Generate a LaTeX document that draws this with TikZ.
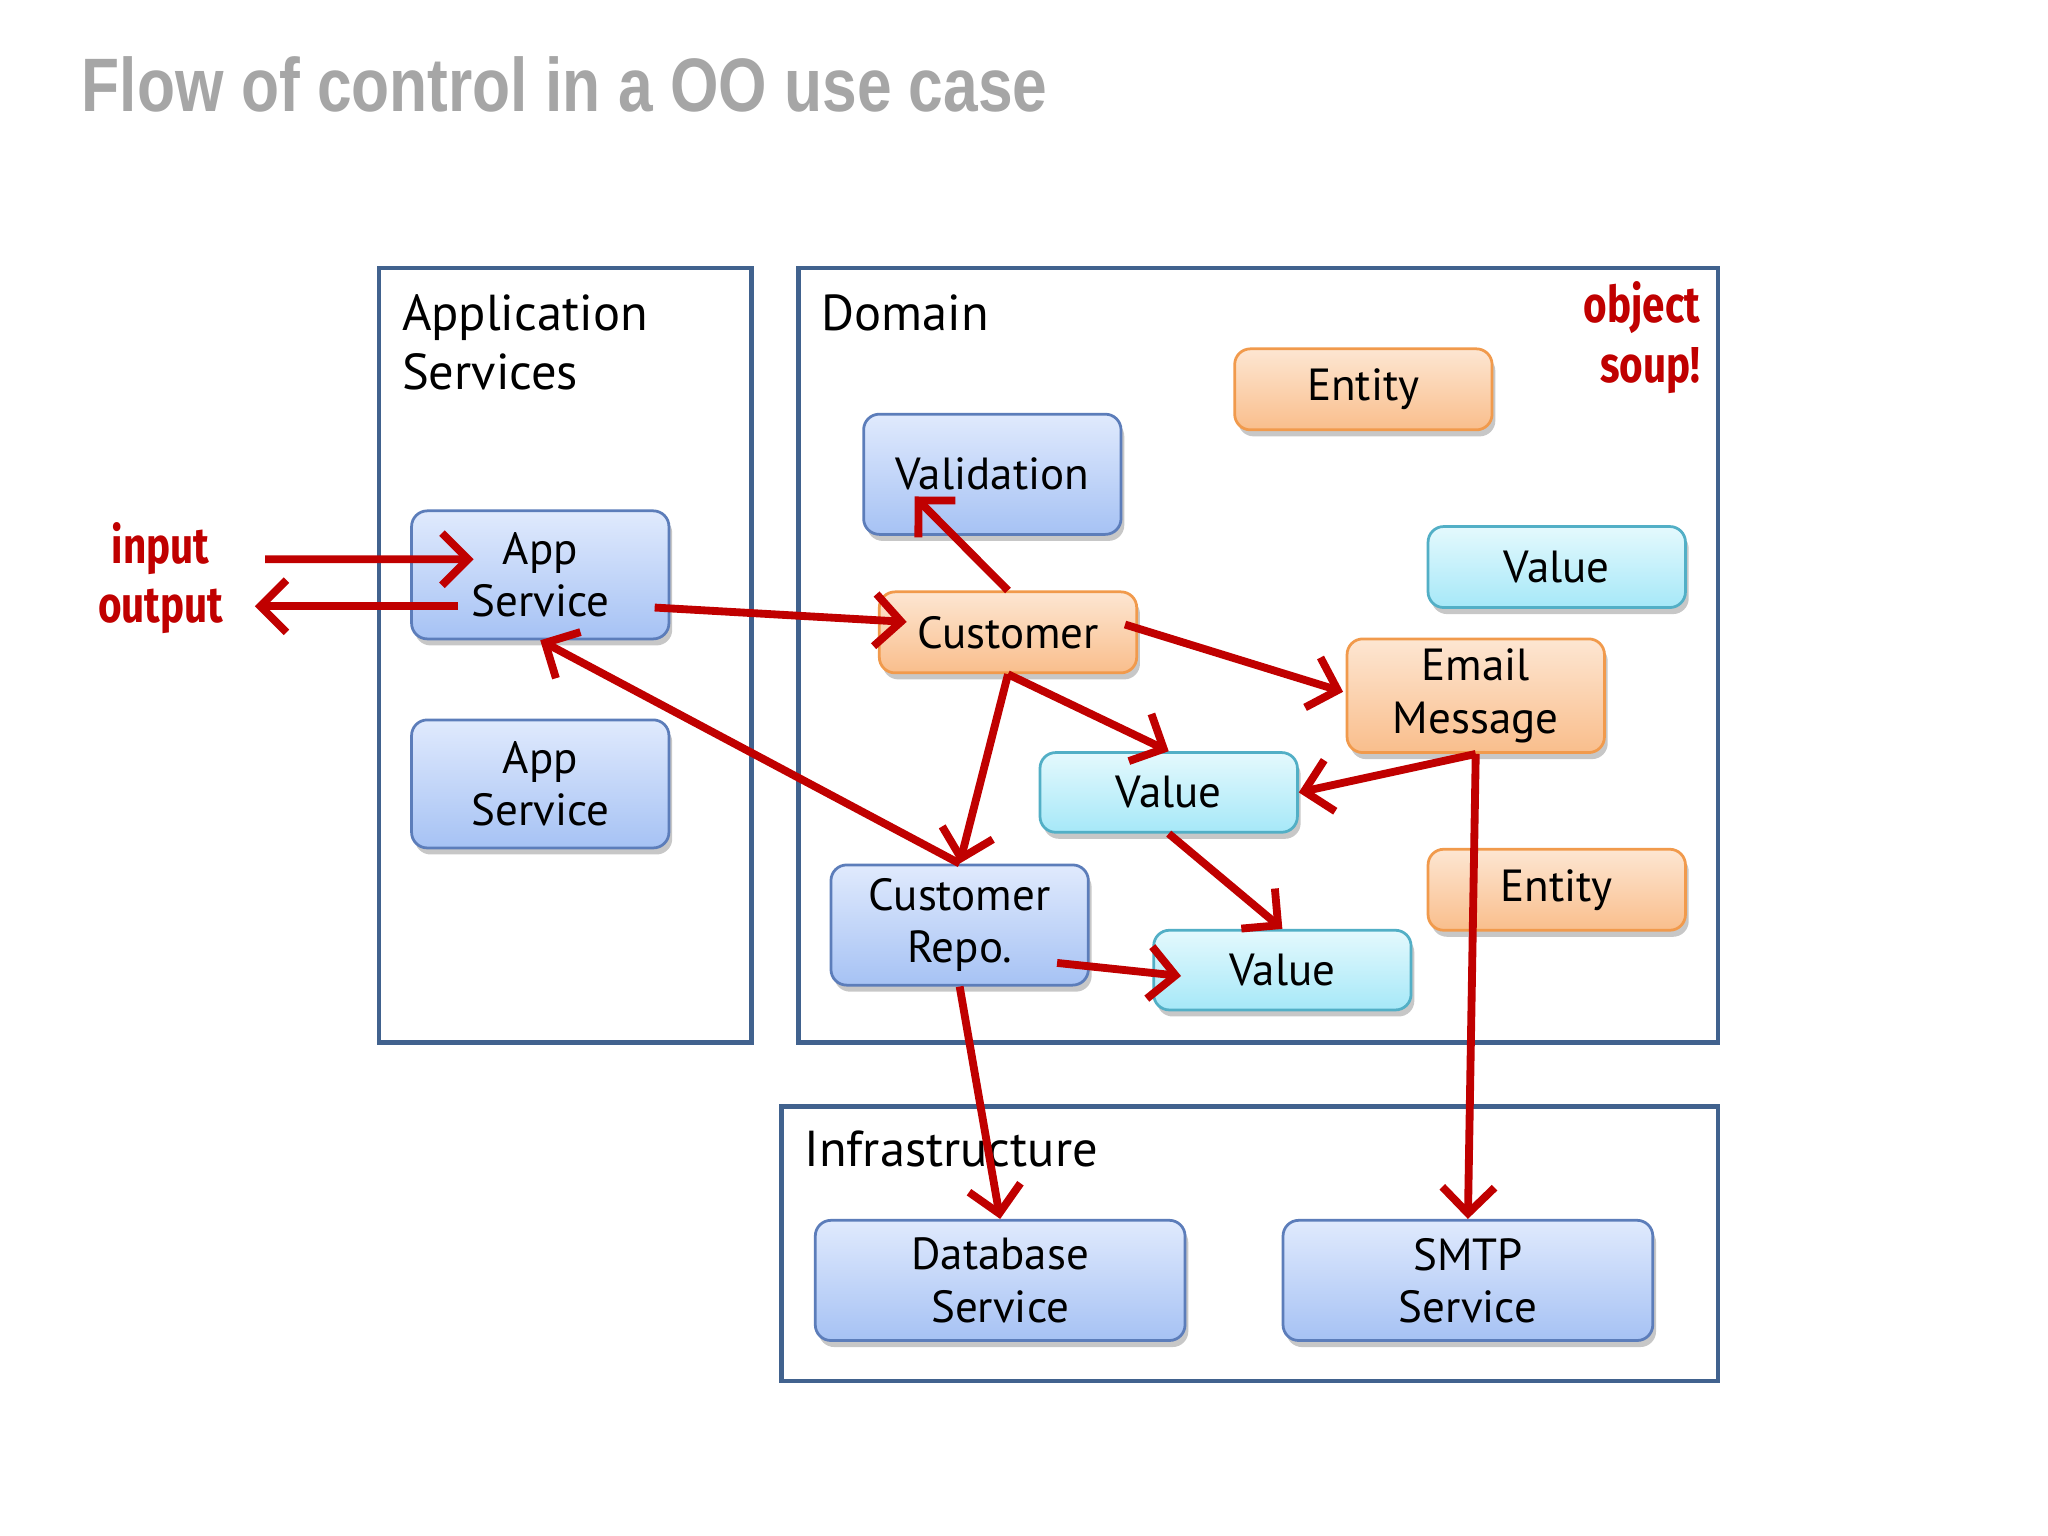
\documentclass[tikz,border=0pt]{standalone}
\usepackage{fontspec}
\setmainfont{PT Sans}
\newfontfamily\titlefont{Liberation Sans}
\newfontfamily\handfont{Fira Sans}
\usetikzlibrary{arrows.meta,shadows,calc}
\definecolor{frameblue}{HTML}{41628E}
\definecolor{bluetop}{HTML}{E0EAFD}
\definecolor{bluebot}{HTML}{A6C2F4}
\definecolor{blueedge}{HTML}{5C7DBA}
\definecolor{orangetop}{HTML}{FDE6D2}
\definecolor{orangebot}{HTML}{F9BE8C}
\definecolor{orangeedge}{HTML}{F19A4C}
\definecolor{cyantop}{HTML}{E4F9FD}
\definecolor{cyanbot}{HTML}{A6E8F8}
\definecolor{cyanedge}{HTML}{52AFC6}
\definecolor{flowred}{HTML}{C00000}
\definecolor{titlegray}{HTML}{A6A6A6}
\tikzset{
  obj/.style={rounded corners=0.12cm, minimum width=1.97cm, align=center,
    inner sep=0pt, line width=0.6pt,
    font=\fontsize{9.8}{11.4}\selectfont,
    drop shadow={shadow xshift=0.025cm, shadow yshift=-0.05cm, opacity=0.22, fill=black}},
  bluebox/.style={obj, draw=blueedge, top color=bluetop, bottom color=bluebot},
  orangebox/.style={obj, draw=orangeedge, top color=orangetop, bottom color=orangebot},
  cyanbox/.style={obj, draw=cyanedge, top color=cyantop, bottom color=cyanbot},
  layer/.style={draw=frameblue, line width=0.035cm},
  layerlabel/.style={inner sep=0pt, align=left, font=\fontsize{11}{12.8}\selectfont},
  flow/.style={draw=flowred, line width=0.06cm,
    -{Straight Barb[length=0.2cm,width=0.4cm]}},
  hand/.style={text=flowred, inner sep=0pt, font=\handfont\bfseries\fontsize{11}{13}\selectfont},
}
\begin{document}
\begin{tikzpicture}
\useasboundingbox[fill=white] (0,0) rectangle (15.675,-11.756);

% title
\node[anchor=base west, inner sep=0pt, text=titlegray,
  font=\titlefont\bfseries\fontsize{16.5}{20}\selectfont] (title) at (0.62,-0.85)
  {\scalebox{0.822}[1]{Flow of control in a OO use case}};

% layers
\draw[layer] (2.90,-2.05) rectangle (5.75,-7.98);
\draw[layer] (6.11,-2.05) rectangle (13.15,-7.98);
\draw[layer] (5.98,-8.47) rectangle (13.15,-10.57);

\node[layerlabel, anchor=base west] (applbl) at (3.07,-2.53) {Application};
\node[layerlabel, anchor=base west] (applbl2) at (3.07,-2.98) {Services};
\node[layerlabel, anchor=base west] (domlbl) at (6.28,-2.53) {Domain};
\node[layerlabel, anchor=base west] (inflbl) at (6.15,-8.93) {Infrastructure};

% objects
\node[bluebox, minimum height=0.98cm] (app1) at (4.135,-4.40) {App\\Service};
\node[bluebox, minimum height=0.98cm] (app2) at (4.135,-6.00) {App\\Service};
\node[bluebox, minimum height=0.92cm] (valid) at (7.595,-3.63) {Validation};
\node[orangebox, minimum height=0.62cm] (ent1) at (10.435,-2.98) {Entity};
\node[cyanbox, minimum height=0.62cm] (val1) at (11.915,-4.34) {Value};
\node[orangebox, minimum height=0.62cm] (cust) at (7.715,-4.84) {Customer};
\node[orangebox, minimum height=0.87cm] (email) at (11.295,-5.325) {Email\\Message};
\node[cyanbox, minimum height=0.61cm] (val2) at (8.945,-6.065) {Value};
\node[orangebox, minimum height=0.62cm] (ent2) at (11.915,-6.81) {Entity};
\node[bluebox, minimum height=0.92cm] (repo) at (7.345,-7.08) {Customer\\Repo.};
\node[cyanbox, minimum height=0.61cm] (val3) at (9.815,-7.425) {Value};
\node[bluebox, minimum width=2.83cm, minimum height=0.92cm] (db) at (7.655,-9.80) {Database\\Service};
\node[bluebox, minimum width=2.83cm, minimum height=0.92cm] (smtp) at (11.235,-9.80) {SMTP\\Service};

% handwritten notes
\node[hand] (inlbl) at (1.23,-4.20) {\scalebox{0.8}[1]{input}};
\node[hand] (outlbl) at (1.23,-4.68) {\scalebox{0.8}[1]{output}};
\node[hand, align=right, anchor=north east] (soup) at (13.02,-2.15)
  {\scalebox{0.8}[1]{object}\\\scalebox{0.8}[1]{soup!}};

\coordinate (inStart) at (2.03,-4.28);
\coordinate (outEnd) at (1.95,-4.64);

% flows
\draw[flow] (inStart) -- ($(app1.center)+(-0.51,0.12)$);
\draw[flow] ($(app1.center)+(-0.63,-0.24)$) -- (outEnd);
\draw[flow] ($(app1.east)+(-0.12,-0.25)$) -- ($(cust.west)+(0.22,0.08)$);
\draw[flow] (cust.north) -- ($(valid.center)+(-0.595,-0.17)$);
\draw[flow] ($(cust.east)+(-0.10,0.06)$) -- ($(email.west)+(-0.02,0.03)$);
\draw[flow] (cust.south) -- (val2.north);
\draw[flow] (cust.south) -- (repo.north);
\draw[flow] (repo.north) -- (app1.south);
\draw[flow] (email.south) -- (val2.east);
\draw[flow] (email.south) -- (smtp.north);
\draw[flow] (val2.south) -- (val3.north);
\draw[flow] ($(repo.east)+(-0.25,-0.29)$) -- ($(val3.west)+(0.22,-0.045)$);
\draw[flow] (repo.south) -- (db.north);
\end{tikzpicture}
\end{document}
